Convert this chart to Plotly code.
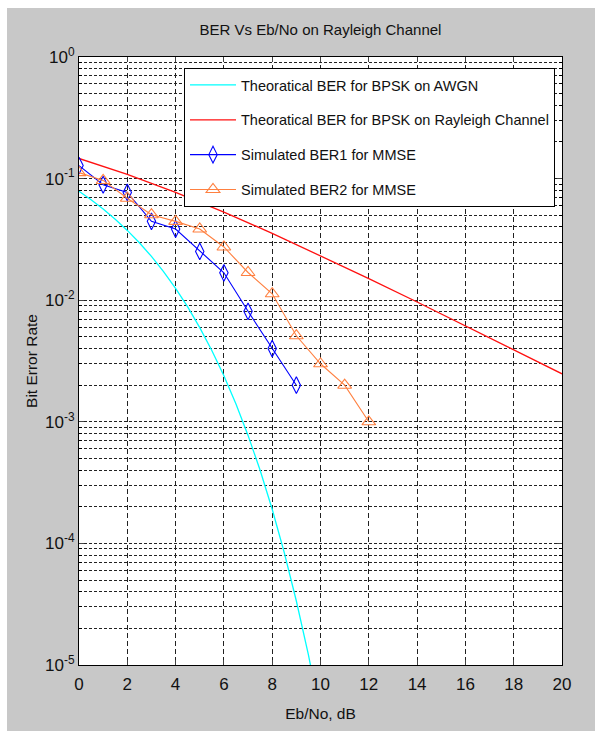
import plotly.graph_objects as go

# ---- data ----
ebno_awgn = [0, 0.5, 1, 1.5, 2, 2.5, 3, 3.5, 4, 4.5, 5, 5.5, 6, 6.5, 7, 7.5, 8, 8.5, 9, 9.5, 10]
ber_awgn = [0.0786, 0.0671, 0.0563, 0.0464, 0.0375, 0.0297, 0.0229, 0.0172, 0.0125, 0.0088,
            0.00595, 0.00386, 0.00239, 0.0014, 7.73e-4, 3.99e-4, 1.91e-4, 8.4e-5, 3.36e-5,
            1.21e-5, 3.87e-6]

ebno_ray = [0, 2, 4, 6, 8, 10, 12, 14, 16, 18, 20]
ber_ray = [0.1464, 0.1085, 0.0771, 0.0530, 0.0355, 0.0233, 0.01506, 0.00967, 0.00617, 0.00392, 0.00248]

ebno_sim1 = [0, 1, 2, 3, 4, 5, 6, 7, 8, 9]
ber_sim1 = [0.128, 0.089, 0.077, 0.0445, 0.0385, 0.0252, 0.0168, 0.0081, 0.0040, 0.0020]

ebno_sim2 = [0, 1, 2, 3, 4, 5, 6, 7, 8, 9, 10, 11, 12]
ber_sim2 = [0.112, 0.0966, 0.069, 0.0505, 0.0445, 0.0385, 0.0274, 0.0169, 0.0113, 0.0051, 0.0030, 0.0020, 0.0010]

x_ticks = [0, 2, 4, 6, 8, 10, 12, 14, 16, 18, 20]
y_tick_vals = [1e-5, 1e-4, 1e-3, 1e-2, 1e-1, 1e0]
y_tick_text = ["10<sup>-5</sup>", "10<sup>-4</sup>", "10<sup>-3</sup>",
               "10<sup>-2</sup>", "10<sup>-1</sup>", "10<sup>0</sup>"]

names = ["Theoratical BER for BPSK on AWGN",
         "Theoratical BER for BPSK on Rayleigh Channel",
         "Simulated BER1 for MMSE",
         "Simulated BER2 for MMSE"]

FONT = "Liberation Sans, Arial, sans-serif"
GREY = "#c8c8c8"
W, H = 595, 731
ML, MT = 79, 57
MR, MB = 33, 66
PW, PH = W - ML - MR, H - MT - MB

minor_vals = [m * 10 ** e for e in range(-5, 0) for m in range(2, 10)]

fig = go.Figure()
fig.add_trace(go.Scatter(x=ebno_awgn, y=ber_awgn, mode="lines", name=names[0],
                         line=dict(color="#00ffff", width=1.3), legendgroup="a"))
fig.add_trace(go.Scatter(x=ebno_ray, y=ber_ray, mode="lines", name=names[1],
                         line=dict(color="#ff1010", width=1.3), legendgroup="b"))
fig.add_trace(go.Scatter(x=ebno_sim1, y=ber_sim1, mode="lines+markers", name=names[2],
                         line=dict(color="#0000ff", width=1.1),
                         marker=dict(symbol="diamond-tall-open", size=12, color="#0000ff",
                                     line=dict(width=1.1)), legendgroup="c"))
fig.add_trace(go.Scatter(x=ebno_sim2, y=ber_sim2, mode="lines+markers", name=names[3],
                         line=dict(color="#ff8040", width=1.1),
                         marker=dict(symbol="triangle-up-open", size=12, color="#ff8040",
                                     line=dict(width=1.1)), legendgroup="d"))

# thin white strips along the top and left edge of the image
fig.add_shape(type="rect", xref="paper", yref="paper",
              x0=-ML / PW - 0.05, x1=(W - ML) / PW + 0.05,
              y0=1 + (MT - 8) / PH, y1=1 + MT / PH + 0.05,
              fillcolor="white", line=dict(width=0), layer="below")
fig.add_shape(type="rect", xref="paper", yref="paper",
              x0=-ML / PW - 0.05, x1=(7 - ML) / PW,
              y0=-MB / PH - 0.05, y1=1 + MT / PH + 0.05,
              fillcolor="white", line=dict(width=0), layer="below")

fig.update_layout(
    width=W, height=H,
    margin=dict(l=ML, r=MR, t=MT, b=MB),
    paper_bgcolor=GREY,
    plot_bgcolor="white",
    font=dict(family=FONT, color="#111111", size=15),
    title=dict(text="BER Vs Eb/No on Rayleigh Channel", x=(ML + PW / 2) / W, xanchor="center",
               y=1 - 30 / H, yanchor="middle", font=dict(size=15, family=FONT)),
    showlegend=True,
    legend=dict(x=(555 - ML) / PW, xanchor="right", y=1 - (68 - MT) / PH, yanchor="top",
                bgcolor="white", bordercolor="black", borderwidth=1, itemwidth=46,
                font=dict(size=14.5, family=FONT), tracegroupgap=13),
    xaxis=dict(range=[0, 20], tickvals=x_ticks, ticks="inside", ticklen=5,
               showline=True, linecolor="black", linewidth=1, mirror="ticks",
               showgrid=True, gridcolor="#222222", gridwidth=1, griddash="5px,3px",
               zeroline=False, tickfont=dict(size=17), automargin=False,
               ticklabelstandoff=4,
               title=dict(text="Eb/No, dB", font=dict(size=15.5), standoff=14)),
    yaxis=dict(type="log", range=[-5, 0], tickvals=y_tick_vals, ticktext=y_tick_text,
               ticks="inside", ticklen=5, automargin=False,
               showline=True, linecolor="black", linewidth=1, mirror="ticks",
               showgrid=True, gridcolor="#222222", gridwidth=1, griddash="3px,2px",
               zeroline=False, tickfont=dict(size=17),
               minor=dict(tickvals=minor_vals, ticks="inside", ticklen=3, tickcolor="black",
                          showgrid=True, gridcolor="#222222", gridwidth=1, griddash="3px,2px"),
               title=dict(text="Bit Error Rate", font=dict(size=15.5), standoff=3)),
)

fig.write_html("out.html",
               config={"displayModeBar": False},
               post_script="document.body.style.margin='0';"
                           "document.documentElement.style.background='" + GREY + "';"
                           "document.body.style.overflow='hidden';")
